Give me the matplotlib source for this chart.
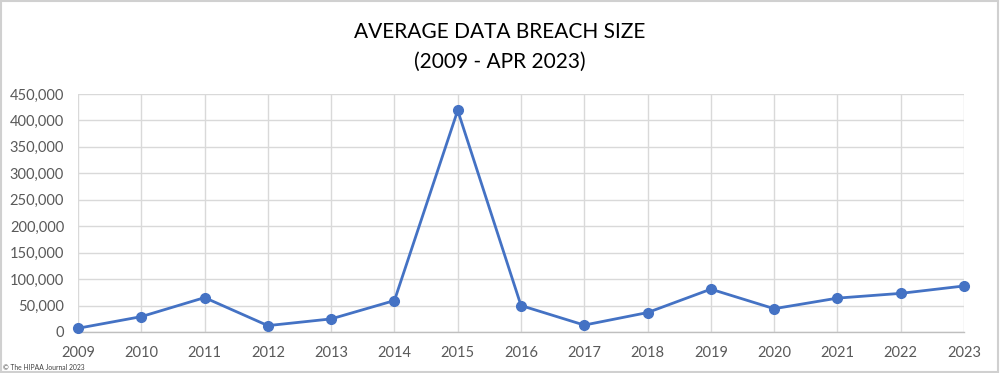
import numpy as np
import matplotlib.pyplot as plt
from matplotlib.patches import Rectangle
from matplotlib.ticker import FuncFormatter

years = [2009, 2010, 2011, 2012, 2013, 2014, 2015, 2016,
         2017, 2018, 2019, 2020, 2021, 2022, 2023]
avg_size = [7000, 29000, 65000, 12000, 24700, 59400, 419000, 50000,
            13000, 36700, 81000, 44000, 64000, 73000, 87000]
y_ticks = [0, 50000, 100000, 150000, 200000, 250000, 300000, 350000, 400000, 450000]

plt.rcParams['font.family'] = ['Lato', 'DejaVu Sans']

fig = plt.figure(figsize=(10, 3.73), dpi=100)
ax = fig.add_axes([0.078, 0.11, 0.886, 0.638])

ax.plot(years, avg_size, color='#4472C4', linewidth=2.0, marker='o',
        markersize=7, zorder=3, clip_on=False)

ax.set_xlim(2009, 2023)
ax.set_ylim(0, 450000)
ax.set_xticks(years)
ax.set_yticks(y_ticks)
ax.yaxis.set_major_formatter(FuncFormatter(lambda v, p: f"{int(v):,}"))

ax.grid(True, color='#d9d9d9', linewidth=1.0)
ax.set_axisbelow(True)
for s in ['top', 'right', 'left']:
    ax.spines[s].set_visible(False)
ax.spines['bottom'].set_color('#bfbfbf')
ax.spines['bottom'].set_linewidth(1.0)
ax.tick_params(axis='both', length=0, labelsize=10.5, colors='#595959')
ax.tick_params(axis='x', pad=10)
ax.tick_params(axis='y', pad=10)

fig.text(0.5, 0.915, "AVERAGE DATA BREACH SIZE", ha='center', va='center',
         fontsize=15, color='#000000')
fig.text(0.5, 0.835, "(2009 - APR 2023)", ha='center', va='center',
         fontsize=15, color='#000000')
fig.text(0.003, 0.016, "\u00a9 The HIPAA Journal 2023", ha='left', va='center',
         fontsize=4.9, color='#404040')

fig.patches.append(Rectangle((0.001, 0.002), 0.997, 0.995, transform=fig.transFigure,
                             fill=False, edgecolor='#d0d0d0', linewidth=1.5))

fig.savefig('out.png', dpi=100)
